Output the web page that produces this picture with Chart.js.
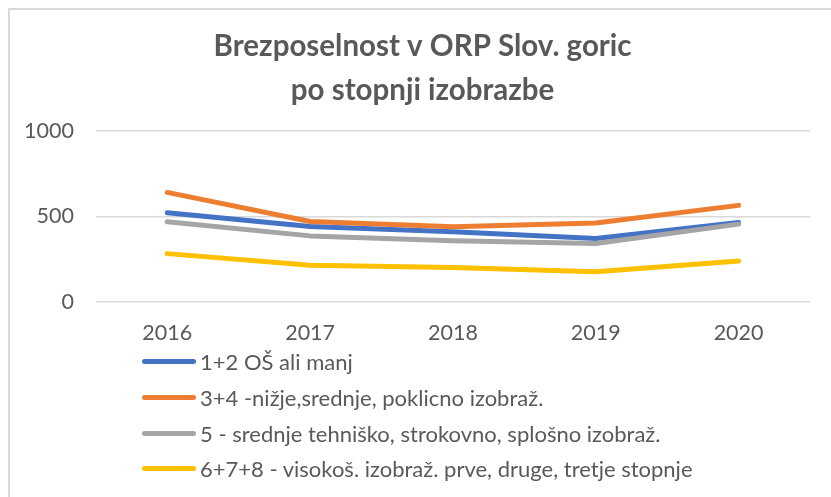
<!DOCTYPE html>
<html>
<head>
<meta charset="utf-8">
<script src="https://cdn.jsdelivr.net/npm/chart.js@4"></script>
<style>
  body { margin: 0; background: #fff; }
  #frame { position: absolute; left: 8px; top: 8px; width: 900px; height: 600px; border: 2px solid #d9d9d9; box-sizing: border-box; }
  #wrap { position: absolute; left: 0; top: 0; width: 831px; height: 497px; }
  #legend { position: absolute; left: 142px; top: 344px; margin: 0; padding: 0; list-style: none;
            font-family: Lato, sans-serif; font-size: 22px; color: #595959; }
  #legend li { height: 35.7px; display: flex; align-items: center; white-space: nowrap; }
  #legend span.sw { display: inline-block; width: 54px; height: 5px; border-radius: 3px; margin-right: 4px; }
</style>
</head>
<body>
<div id="frame"></div>
<div id="wrap"><canvas id="chart"></canvas></div>
<ul id="legend"></ul>
<script>
// kategorije (leta)
const years = ['2016', '2017', '2018', '2019', '2020'];

// serije - odčitano s slike
const seriesNames = [
    '1+2 OŠ ali manj',
    '3+4 -nižje,srednje, poklicno izobraž.',
    '5 - srednje tehniško, strokovno, splošno izobraž.',
    '6+7+8 - visokoš. izobraž. prve, druge, tretje stopnje'
];
const osAliManj = [522, 441, 410, 371, 465];
const poklicno = [641, 470, 439, 461, 565];
const tehnisko = [469, 386, 357, 341, 455];
const visokosolsko = [282, 214, 200, 175, 239];
const seriesColors = ['#4472C4', '#ED7D31', '#A5A5A5', '#FFC000'];

// y os
const yTicks = [0, 500, 1000];

const titleLines = ['Brezposelnost v ORP Slov. goric', 'po stopnji izobrazbe'];

const allValues = [osAliManj, poklicno, tehnisko, visokosolsko];

const datasets = allValues.map((vals, i) => ({
    label: seriesNames[i],
    data: vals,
    borderColor: seriesColors[i],
    backgroundColor: seriesColors[i],
    borderWidth: 5,
    borderCapStyle: 'round',
    borderJoinStyle: 'round',
    pointRadius: 0,
    tension: 0,
    order: allValues.length - i // kasnejše serije narisane zgoraj (kot v Excelu)
}));

const ctx = document.getElementById('chart').getContext('2d');
const chart = new Chart(ctx, {
    type: 'line',
    data: { labels: years, datasets: datasets },
    options: {
        responsive: true,
        maintainAspectRatio: false,
        animation: false,
        layout: { padding: { left: 2, right: 21, top: 0, bottom: 133.5 } },
        plugins: {
            legend: { display: false },
            tooltip: { enabled: false },
            title: {
                display: true,
                // presledki spredaj, da je naslov malo bolj desno (kot v originalu)
                text: titleLines.map(t => '\u2002\u2002\u2009' + t),
                color: '#595959',
                font: { family: 'Lato, sans-serif', size: 29.5, weight: 'bold', lineHeight: 1.5 },
                padding: { top: 24, bottom: 18.7 }
            }
        },
        scales: {
            x: {
                offset: true,
                grid: { display: false, drawTicks: false },
                border: { display: false },
                ticks: { color: '#595959', padding: 18, font: { family: 'Lato, sans-serif', size: 21.5 } }
            },
            y: {
                min: yTicks[0],
                max: yTicks[yTicks.length - 1],
                afterBuildTicks: function(axis) {
                    axis.ticks = yTicks.map(v => ({ value: v }));
                },
                grid: { color: '#d9d9d9', lineWidth: 1.5, drawTicks: false },
                border: { display: false },
                ticks: {
                    color: '#595959', padding: 22,
                    font: { family: 'Lato, sans-serif', size: 21.5 },
                    callback: v => String(v)
                }
            }
        }
    }
});

// legenda - ena serija na vrstico
const legendEl = document.getElementById('legend');
chart.data.datasets.forEach(function(ds) {
    const li = document.createElement('li');
    li.innerHTML = '<span class="sw" style="background:' + ds.borderColor + '"></span>' + ds.label;
    legendEl.appendChild(li);
});
</script>
</body>
</html>
